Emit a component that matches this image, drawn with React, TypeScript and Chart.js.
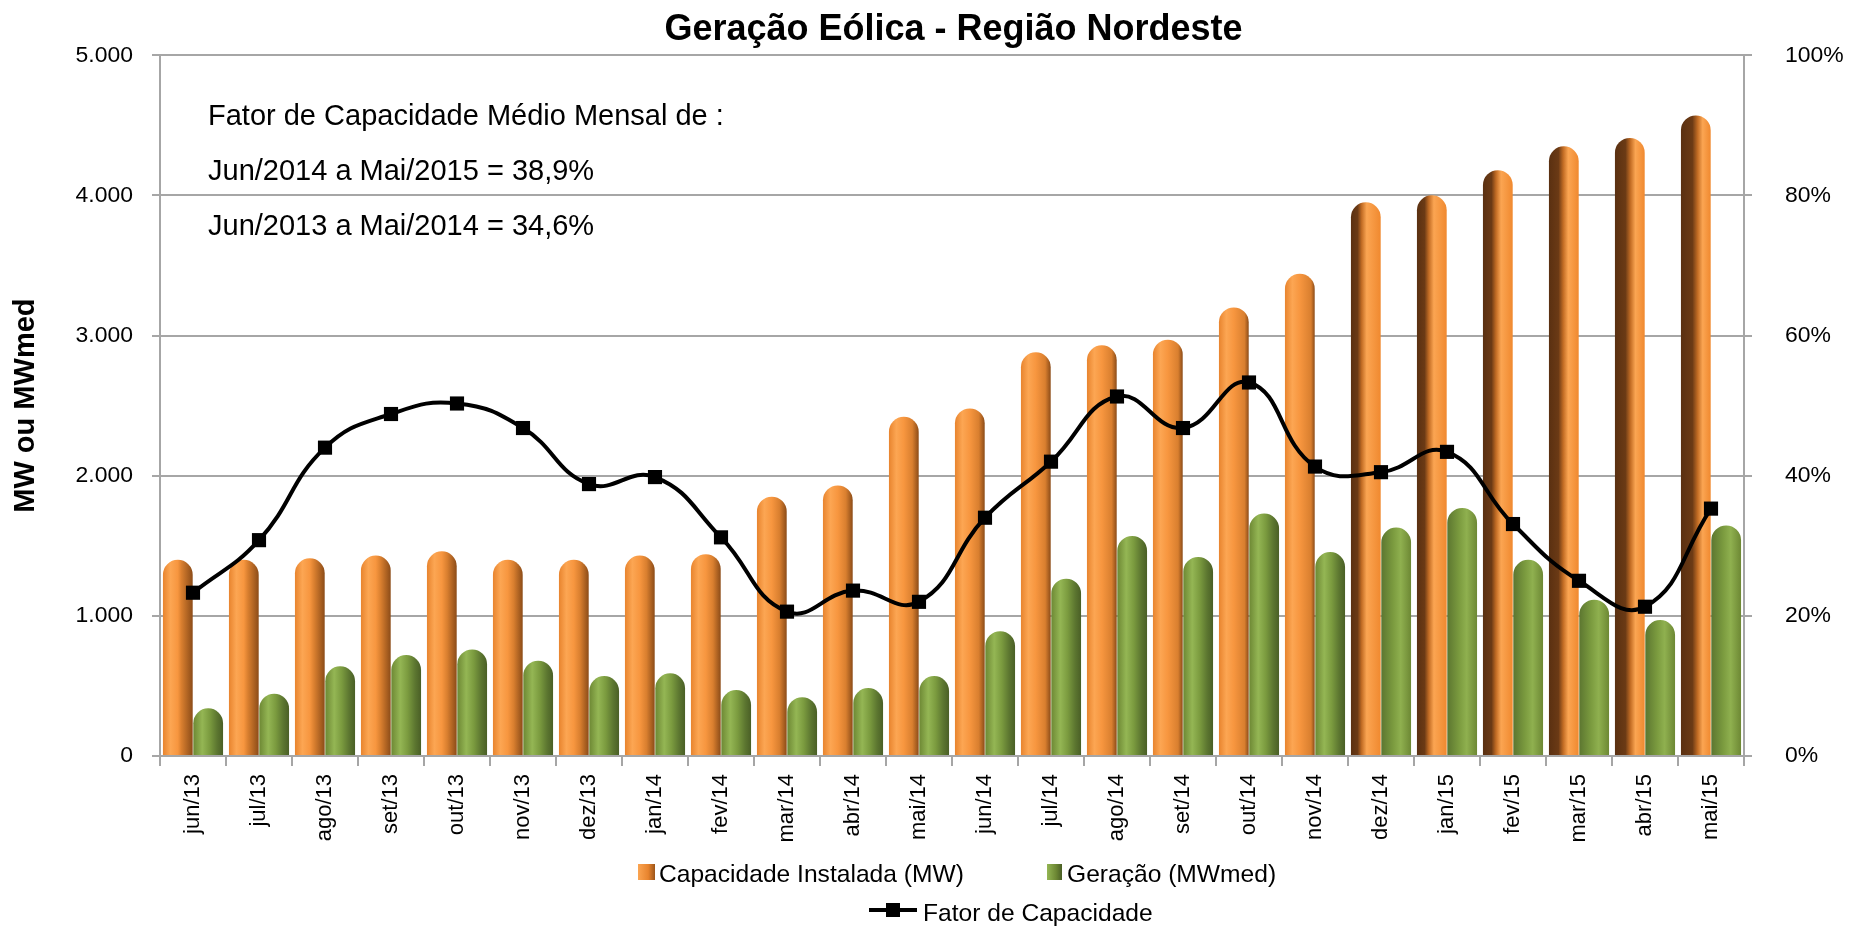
import React, { useEffect, useRef } from 'react';
import { Chart, registerables } from 'chart.js';

Chart.register(...registerables);

// ---------------- data ----------------
const categories = [
  'jun/13', 'jul/13', 'ago/13', 'set/13', 'out/13', 'nov/13', 'dez/13', 'jan/14',
  'fev/14', 'mar/14', 'abr/14', 'mai/14', 'jun/14', 'jul/14', 'ago/14', 'set/14',
  'out/14', 'nov/14', 'dez/14', 'jan/15', 'fev/15', 'mar/15', 'abr/15', 'mai/15',
];

const capacidadeInstalada = [
  1400, 1400, 1410, 1430, 1460, 1400, 1400, 1430, 1440, 1850, 1930, 2420,
  2480, 2880, 2930, 2970, 3200, 3440, 3950, 4000, 4180, 4350, 4410, 4570,
];

const geracao = [
  340, 445, 640, 720, 760, 680, 570, 590, 470, 420, 485, 570,
  890, 1265, 1570, 1420, 1730, 1455, 1630, 1770, 1400, 1115, 970, 1645,
];

const fatorCapacidade = [
  23.3, 30.8, 44.0, 48.8, 50.3, 46.8, 38.8, 39.8, 31.2, 20.6, 23.6, 22.0,
  34.0, 42.0, 51.3, 46.8, 53.3, 41.3, 40.5, 43.4, 33.1, 25.0, 21.3, 35.3,
];

const leftTickStep = 1000;
const leftMax = 5000;
const rightTickStep = 20;
const rightMax = 100;

const titleText = 'Geração Eólica - Região Nordeste';
const yAxisTitle = 'MW ou MWmed';
const seriesLabels = ['Capacidade Instalada (MW)', 'Geração (MWmed)', 'Fator de Capacidade'];
const annotationLines = [
  'Fator de Capacidade Médio Mensal de :',
  'Jun/2014 a Mai/2015 = 38,9%',
  'Jun/2013 a Mai/2014 = 34,6%',
];

// ---------------- styling helpers ----------------
const SANS = "'Liberation Sans', Arial, sans-serif";
const CAT_PCT = 0.92;
const BAR_PCT = 0.98;
const GRID = '#a6a6a6';

function fontAvailable(name: string): boolean {
  const c = document.createElement('canvas').getContext('2d');
  if (!c) return false;
  const s = 'abcdefghij ABCDEFG 5.000 100%';
  c.font = '40px monospace';
  const a = c.measureText(s).width;
  c.font = `40px "${name}", monospace`;
  const b = c.measureText(s).width;
  return Math.abs(a - b) > 0.5;
}

function formatThousands(v: number): string {
  return String(Math.round(v)).replace(/\B(?=(\d{3})+(?!\d))/g, '.');
}

function barGeometry(chart: any, index: number, which: number) {
  const x = chart.scales.x;
  const center = x.getPixelForValue(index);
  const catW = x.width / categories.length;
  const range = catW * CAT_PCT;
  const w = (range / 2) * BAR_PCT;
  const c = which === 0 ? center - range / 4 : center + range / 4;
  return { x0: c - w / 2, x1: c + w / 2 };
}

function orangeGradient(g: CanvasGradient, i: number) {
  if (i < 18) {
    const d = 0.62 + i * 0.015;
    g.addColorStop(0, '#e8842e');
    g.addColorStop(0.25, '#fca653');
    g.addColorStop(0.5, '#f7963f');
    g.addColorStop(d, '#d97f2f');
    g.addColorStop(1, '#8c4c18');
  } else {
    const d = 0.28 + (i - 18) * 0.04;
    g.addColorStop(0, '#5a3011');
    g.addColorStop(d * 0.8, '#6b3a15');
    g.addColorStop(d + 0.08, '#c26c24');
    g.addColorStop(Math.min(d + 0.25, 0.85), '#fba552');
    g.addColorStop(1, '#f0892f');
  }
}

function greenGradient(g: CanvasGradient, i: number) {
  if (i < 18) {
    g.addColorStop(0, '#6d8834');
    g.addColorStop(0.3, '#94b654');
    g.addColorStop(0.55, '#7b9b3f');
    g.addColorStop(0.8, '#5c7630');
    g.addColorStop(1, '#4a5f26');
  } else {
    g.addColorStop(0, '#5c7630');
    g.addColorStop(0.4, '#7b9b3f');
    g.addColorStop(0.65, '#8fb04f');
    g.addColorStop(1, '#6d8834');
  }
}

function barBackground(which: number) {
  return (ctx: any) => {
    const chart = ctx.chart;
    const fallback = which === 0 ? '#f79646' : '#77933c';
    if (!chart.scales || !chart.scales.x || ctx.type !== 'data' || !chart.chartArea) return fallback;
    const { x0, x1 } = barGeometry(chart, ctx.dataIndex, which);
    if (!isFinite(x0) || !isFinite(x1)) return fallback;
    const g = chart.ctx.createLinearGradient(x0, 0, x1, 0);
    if (which === 0) orangeGradient(g, ctx.dataIndex);
    else greenGradient(g, ctx.dataIndex);
    return g;
  };
}

export default function App() {
  const ref = useRef<HTMLCanvasElement>(null);

  useEffect(() => {
    const canvas = ref.current;
    if (!canvas) return;

    const hasNarrow = fontAvailable('Liberation Sans Narrow');
    const NARROW = hasNarrow ? "'Liberation Sans Narrow', 'Liberation Sans', sans-serif" : SANS;
    const k = hasNarrow ? 1 : 0.82;

    const overlayPlugin = {
      id: 'overlayText',
      afterDraw(chart: any) {
        const c: CanvasRenderingContext2D = chart.ctx;
        c.save();
        // annotation box text
        c.fillStyle = '#000';
        c.textAlign = 'left';
        c.textBaseline = 'alphabetic';
        c.font = `29px ${SANS}`;
        const ys = [125, 180, 235];
        annotationLines.forEach((t, i) => c.fillText(t, 208, ys[i]));

        // legend
        const labels = chart.data.datasets.map((d: any) => d.label);
        c.font = `${30 * k}px ${NARROW}`;
        // orange marker
        let g = c.createLinearGradient(638, 0, 655, 0);
        g.addColorStop(0, '#fba552');
        g.addColorStop(0.6, '#e8842e');
        g.addColorStop(1, '#9c5519');
        c.fillStyle = g;
        c.fillRect(638, 864, 17, 16);
        c.fillStyle = '#000';
        c.fillText(labels[0], 659, 882);
        // green marker
        g = c.createLinearGradient(1047, 0, 1062, 0);
        g.addColorStop(0, '#94b654');
        g.addColorStop(0.6, '#6d8834');
        g.addColorStop(1, '#4a5f26');
        c.fillStyle = g;
        c.fillRect(1047, 864, 15, 16);
        c.fillStyle = '#000';
        c.fillText(labels[1], 1067, 882);
        // line marker
        c.strokeStyle = '#000';
        c.lineWidth = 4;
        c.beginPath();
        c.moveTo(869, 910);
        c.lineTo(917, 910);
        c.stroke();
        c.fillStyle = '#000';
        c.fillRect(893 - 7, 910 - 7, 14, 14);
        c.fillText(labels[2], 923, 921);
        c.restore();
      },
    };

    const chart = new Chart(canvas, {
      type: 'bar',
      data: {
        labels: categories,
        datasets: [
          {
            type: 'bar',
            label: seriesLabels[0],
            data: capacidadeInstalada,
            yAxisID: 'y',
            backgroundColor: barBackground(0),
            borderWidth: 0,
            borderRadius: 15,
            categoryPercentage: CAT_PCT,
            barPercentage: BAR_PCT,
            order: 1,
          },
          {
            type: 'bar',
            label: seriesLabels[1],
            data: geracao,
            yAxisID: 'y',
            backgroundColor: barBackground(1),
            borderWidth: 0,
            borderRadius: 15,
            categoryPercentage: CAT_PCT,
            barPercentage: BAR_PCT,
            order: 1,
          },
          {
            type: 'line',
            label: seriesLabels[2],
            data: fatorCapacidade,
            yAxisID: 'y1',
            borderColor: '#000',
            backgroundColor: '#000',
            borderWidth: 4,
            tension: 0.45,
            pointStyle: 'rect',
            pointRadius: 10,
            pointBackgroundColor: '#000',
            pointBorderColor: '#000',
            pointBorderWidth: 0,
            fill: false,
            clip: false as any,
            order: 0,
          },
        ],
      } as any,
      options: {
        responsive: false,
        animation: false,
        devicePixelRatio: 1,
        layout: { padding: { left: 58, right: 0, top: 0, bottom: 0 } },
        plugins: {
          legend: { display: false },
          tooltip: { enabled: false },
          title: {
            display: true,
            text: titleText,
            color: '#000',
            font: { family: SANS, size: 36, weight: 'bold' },
            padding: { top: 8, bottom: 4 },
          },
        },
        scales: {
          x: {
            type: 'category',
            offset: true,
            grid: {
              offset: true,
              drawOnChartArea: false,
              drawTicks: true,
              tickLength: 10,
              color: GRID,
              lineWidth: 2,
            },
            border: { display: true, color: GRID, width: 2 },
            ticks: {
              minRotation: 90,
              maxRotation: 90,
              autoSkip: false,
              padding: 8,
              color: '#000',
              font: { family: SANS, size: 22 },
            },
            afterFit: (s: any) => {
              s.height = 171;
            },
          },
          y: {
            position: 'left',
            min: 0,
            max: leftMax,
            grid: { color: GRID, lineWidth: 2, tickLength: 8 },
            border: { display: true, color: GRID, width: 2 },
            ticks: {
              stepSize: leftTickStep,
              padding: 19,
              color: '#000',
              font: { family: NARROW, size: 28 * k },
              callback: (v: any) => formatThousands(Number(v)),
            },
            title: {
              display: true,
              text: yAxisTitle,
              color: '#000',
              font: { family: SANS, size: 29, weight: 'bold' },
              padding: { top: -49, bottom: 0 },
            },
            afterFit: (s: any) => {
              s.width = 102;
            },
          },
          y1: {
            position: 'right',
            min: 0,
            max: rightMax,
            grid: { drawOnChartArea: false, color: GRID, lineWidth: 2, tickLength: 8 },
            border: { display: true, color: GRID, width: 2 },
            ticks: {
              stepSize: rightTickStep,
              padding: 33,
              color: '#000',
              font: { family: NARROW, size: 28 * k },
              callback: (v: any) => `${v}%`,
            },
            afterFit: (s: any) => {
              s.width = 105;
            },
          },
        },
      } as any,
      plugins: [overlayPlugin],
    });

    return () => chart.destroy();
  }, []);

  return (
    <div style={{ position: 'fixed', left: 0, top: 0, width: 1849, height: 927, background: '#fff' }}>
      <canvas ref={ref} width={1849} height={927} style={{ display: 'block', width: 1849, height: 927 }} />
    </div>
  );
}
